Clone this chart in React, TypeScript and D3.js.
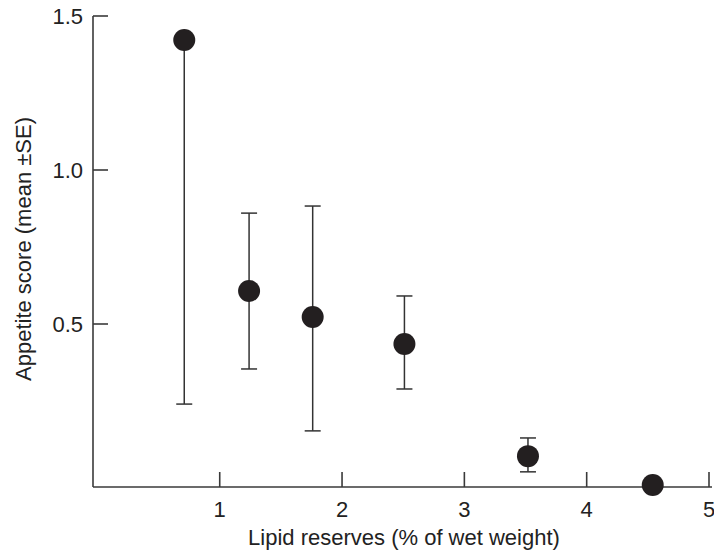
import React from "react";
import * as d3 from "d3";

const lipid = [0.71, 1.24, 1.76, 2.51, 3.52, 4.54];
const appetite = [1.422, 0.607, 0.523, 0.435, 0.071, -0.023];
const seLow = [0.24, 0.354, 0.153, 0.289, 0.02, null];
const seHigh = [null, 0.86, 0.883, 0.591, 0.13, null];
const xTicks = [1, 2, 3, 4, 5];
const yTicks = [0.5, 1.0, 1.5];
const xTitle = "Lipid reserves (% of wet weight)";
const yTitle = "Appetite score (mean \u00b1SE)";

export default function App() {
  const W = 714, H = 551;
  const left = 93, right = 712, top = 16, bottom = 487;
  const x = d3.scaleLinear().domain([-0.036, 5]).range([left, 709]);
  const y = d3.scaleLinear().domain([0, 1.5]).range([478, 16]);
  const font = "'Liberation Sans', Arial, Helvetica, sans-serif";
  const axisColor = "#3a3a3a";
  const capW = 8;
  const fs = 22;
  return (
    <svg width={W} height={H} style={{ position: "absolute", left: 0, top: 0, background: "#fff" }}>
      <rect width={W} height={H} fill="#fff" />
      {/* axes */}
      <line x1={left} y1={top} x2={left} y2={bottom} stroke={axisColor} strokeWidth={1.6} />
      <line x1={left} y1={bottom} x2={right} y2={bottom} stroke={axisColor} strokeWidth={1.6} />
      {yTicks.map((t) => (
        <g key={"y" + t}>
          <line x1={left} x2={left + 15} y1={y(t)} y2={y(t)} stroke={axisColor} strokeWidth={1.6} />
          <text x={left - 10} y={y(t)} dy="0.35em" textAnchor="end" fontFamily={font} fontSize={fs} fill="#222">
            {d3.format(".1f")(t)}
          </text>
        </g>
      ))}
      {xTicks.map((t) => (
        <g key={"x" + t}>
          <line x1={x(t)} x2={x(t)} y1={bottom} y2={bottom - 15} stroke={axisColor} strokeWidth={1.6} />
          <text x={x(t)} y={517} textAnchor="middle" fontFamily={font} fontSize={fs} fill="#222">
            {t}
          </text>
        </g>
      ))}
      <text x={404} y={545} textAnchor="middle" fontFamily={font} fontSize={fs} fill="#222">
        {xTitle}
      </text>
      <text
        transform={`translate(31,249) rotate(-90)`}
        textAnchor="middle"
        fontFamily={font}
        fontSize={fs}
        fill="#222"
      >
        {yTitle}
      </text>
      {/* error bars */}
      {lipid.map((lv, i) => {
        const cx = x(lv);
        const lo = seLow[i];
        const hi = seHigh[i];
        return (
          <g key={"e" + i} stroke="#333" strokeWidth={1.5}>
            {lo !== null && (
              <>
                <line x1={cx} x2={cx} y1={y(appetite[i])} y2={y(lo)} />
                <line x1={cx - capW} x2={cx + capW} y1={y(lo)} y2={y(lo)} />
              </>
            )}
            {hi !== null && (
              <>
                <line x1={cx} x2={cx} y1={y(appetite[i])} y2={y(hi)} />
                <line x1={cx - capW} x2={cx + capW} y1={y(hi)} y2={y(hi)} />
              </>
            )}
          </g>
        );
      })}
      {lipid.map((lv, i) => (
        <circle key={"c" + i} cx={x(lv)} cy={y(appetite[i])} r={11} fill="#231f20" />
      ))}
    </svg>
  );
}
